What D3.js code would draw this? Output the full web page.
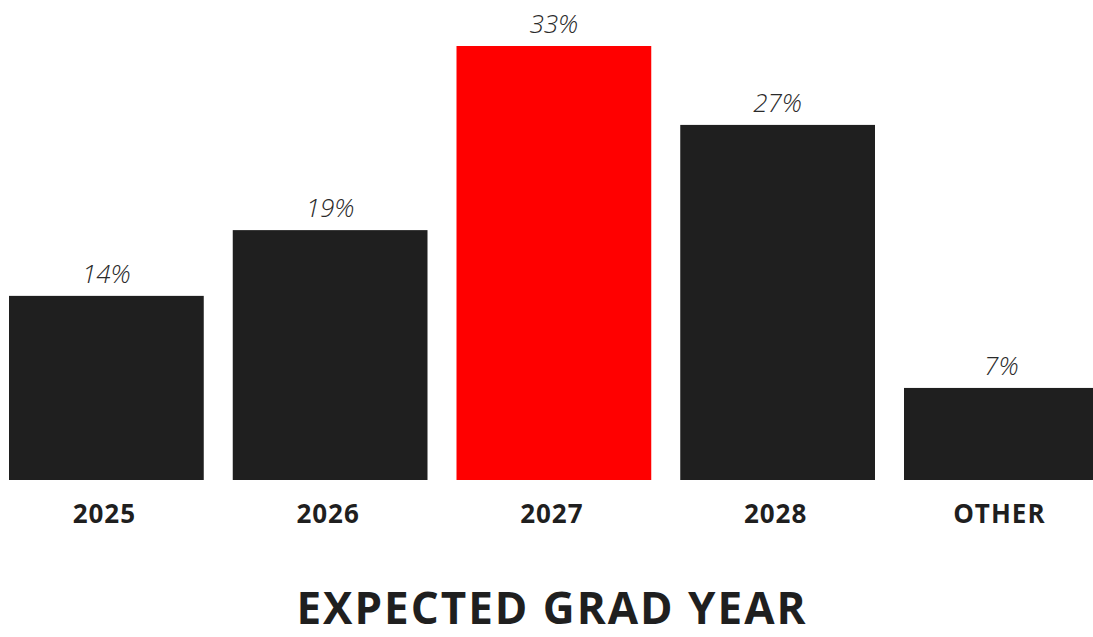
<!DOCTYPE html>
<html><head><meta charset="utf-8">
<script src="https://cdn.jsdelivr.net/npm/d3@7"></script>
<style>html,body{margin:0;padding:0;background:#fff;overflow:hidden}</style>
</head><body>
<svg id="c" width="1093" height="637"></svg>
<script>
const categories = ["2025","2026","2027","2028","OTHER"];
const values = [14,19,33,27,7];
const labels = ["14%","19%","33%","27%","7%"];
const highlight = "2027";
const title = "EXPECTED GRAD YEAR";

const svg = d3.select("#c");
const x = d3.scaleBand().domain(categories).range([9,1098.75]).paddingInner(0.1296).paddingOuter(0);
const y = d3.scaleLinear().domain([0,33]).range([480,46]);

svg.selectAll("rect.bar").data(categories).join("rect")
  .attr("x", d=>x(d)).attr("width", x.bandwidth())
  .attr("y", (d,i)=>y(values[i])).attr("height",(d,i)=>y(0)-y(values[i]))
  .attr("fill", d=> d===highlight ? "#ff0000" : "#1f1f1f");

svg.selectAll("text.val").data(categories).join("text")
  .attr("x", d=>x(d)+x.bandwidth()/2).attr("y",(d,i)=>y(values[i])-13)
  .attr("text-anchor","middle")
  .style("font-family","'Open Sans', sans-serif").style("font-style","italic").style("font-weight",300)
  .style("font-size","26px").attr("fill","#2a2a2a")
  .text((d,i)=>labels[i]);

svg.selectAll("text.cat").data(categories).join("text")
  .attr("x", d=>x(d)+x.bandwidth()/2 - 2).attr("y",523)
  .attr("text-anchor","middle")
  .style("font-family","'Open Sans', sans-serif").style("font-weight",700)
  .style("font-size","26px").style("letter-spacing","1px").attr("fill","#1f1f1f")
  .text(d=>d);

svg.append("text").attr("x",552).attr("y",624).attr("text-anchor","middle")
  .style("font-family","'Open Sans', sans-serif").style("font-weight",700)
  .style("font-size","44px").style("letter-spacing","2px").attr("fill","#1f1f1f")
  .text(title);
</script>
</body></html>
